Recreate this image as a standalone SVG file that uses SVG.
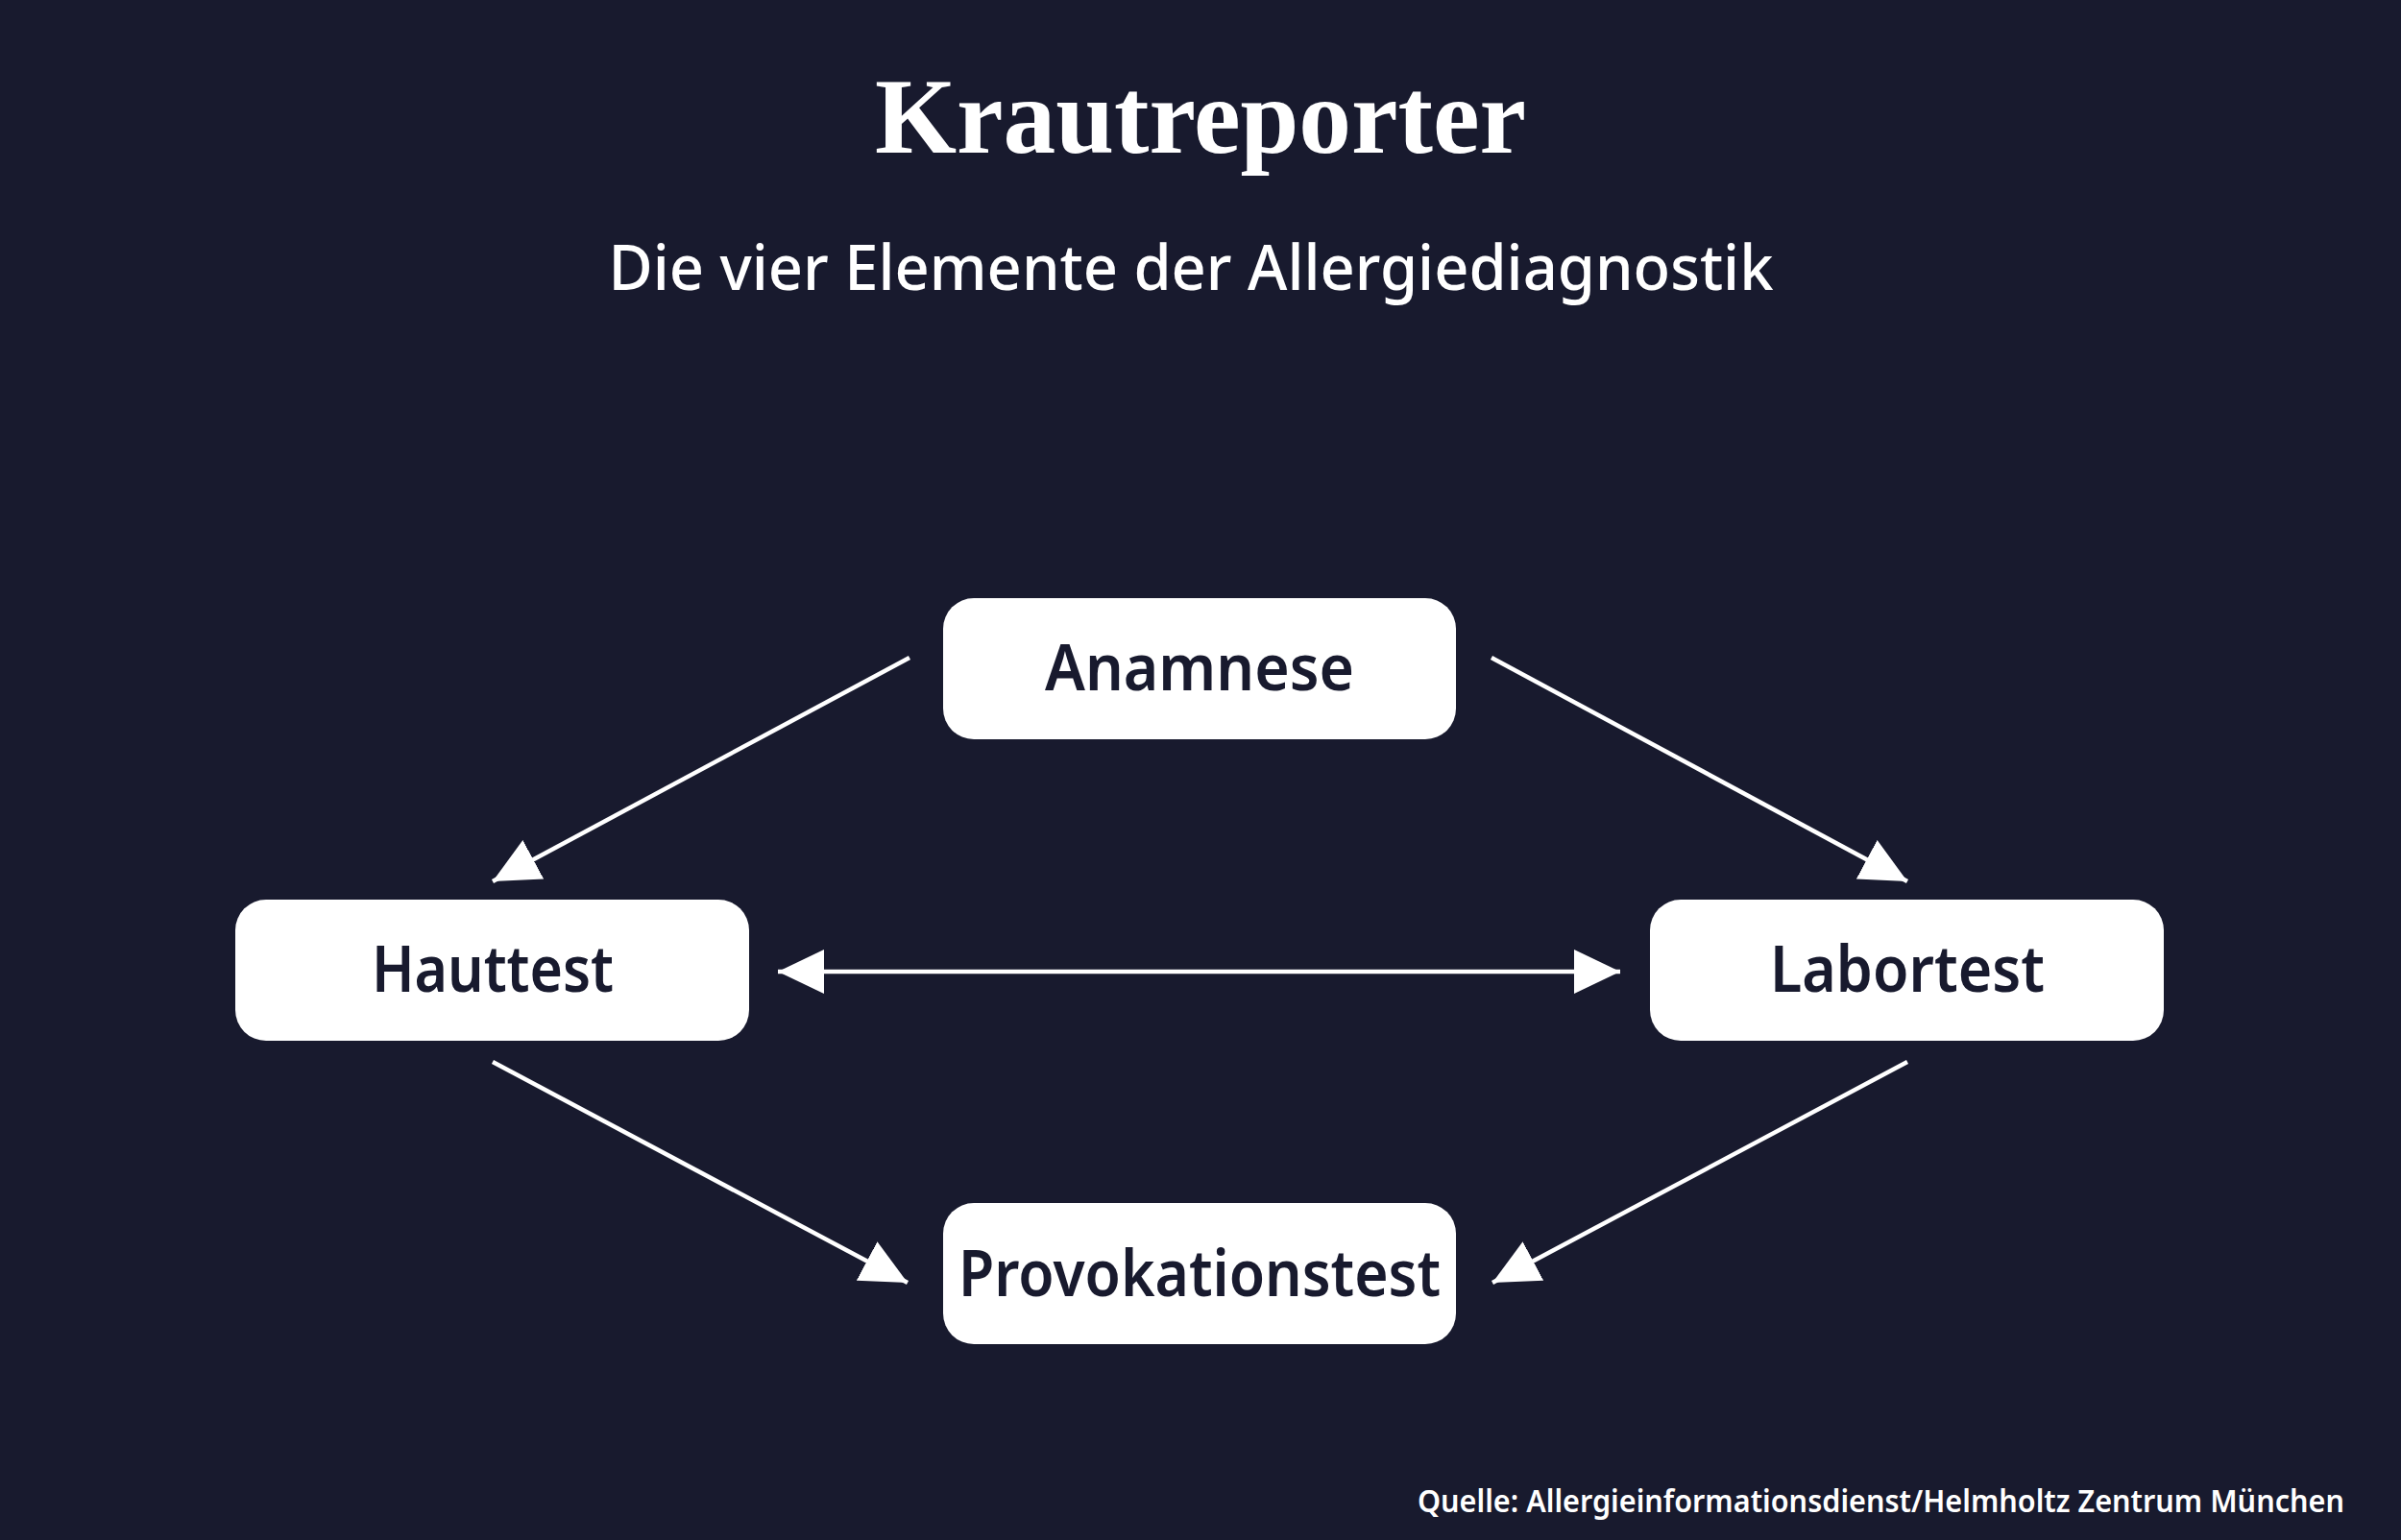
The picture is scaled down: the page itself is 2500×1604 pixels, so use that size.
<svg xmlns="http://www.w3.org/2000/svg" width="2500" height="1604" viewBox="0 0 2500 1604">
<style>
.node{fill:#ffffff}
.lbl{font-family:"Noto Sans","DejaVu Sans",sans-serif;font-weight:600;font-size:66px;fill:#181a2e;text-anchor:middle}
.conn{stroke:#ffffff;stroke-width:4.5;fill:none}
</style>
<defs>
<marker id="ah" markerUnits="userSpaceOnUse" markerWidth="50" markerHeight="50" viewBox="0 0 50 50" refX="48" refY="25" orient="auto-start-reverse">
<path d="M0,2 L48,25 L0,48 Z" fill="#ffffff"/>
</marker>
</defs>
<rect width="2500" height="1604" fill="#181a2e"/>
<text x="1250" y="159" font-family="Liberation Serif,serif" font-weight="bold" font-size="112" fill="#ffffff" text-anchor="middle" textLength="678" lengthAdjust="spacingAndGlyphs">Krautreporter</text>
<text x="1240" y="302" font-family="Noto Sans,sans-serif" font-weight="500" font-size="66" fill="#ffffff" text-anchor="middle" textLength="1213" lengthAdjust="spacingAndGlyphs">Die vier Elemente der Allergiediagnostik</text>
<g id="anamnese"><rect class="node" x="982" y="623" width="534" height="147" rx="32"/><text class="lbl" x="1249" y="719" textLength="322" lengthAdjust="spacingAndGlyphs">Anamnese</text></g>
<g id="hauttest"><rect class="node" x="245" y="937" width="535" height="147" rx="32"/><text class="lbl" x="513" y="1033" textLength="252" lengthAdjust="spacingAndGlyphs">Hauttest</text></g>
<g id="labortest"><rect class="node" x="1718" y="937" width="535" height="147" rx="32"/><text class="lbl" x="1986" y="1033" textLength="286" lengthAdjust="spacingAndGlyphs">Labortest</text></g>
<g id="provokationstest"><rect class="node" x="982" y="1253" width="534" height="147" rx="32"/><text class="lbl" x="1249" y="1350" textLength="502" lengthAdjust="spacingAndGlyphs">Provokationstest</text></g>
<g id="connectors">
<line class="conn" x1="947" y1="685" x2="513" y2="918" marker-end="url(#ah)"/>
<line class="conn" x1="1553" y1="685" x2="1986" y2="918" marker-end="url(#ah)"/>
<line class="conn" x1="810" y1="1012" x2="1687" y2="1012" marker-start="url(#ah)" marker-end="url(#ah)"/>
<line class="conn" x1="513" y1="1106" x2="945" y2="1336" marker-end="url(#ah)"/>
<line class="conn" x1="1986" y1="1106" x2="1554" y2="1336" marker-end="url(#ah)"/>
</g>
<text x="2441" y="1575" font-family="Noto Sans,sans-serif" font-weight="600" font-size="32" fill="#ffffff" text-anchor="end" textLength="965" lengthAdjust="spacingAndGlyphs">Quelle: Allergieinformationsdienst/Helmholtz Zentrum München</text>
</svg>
